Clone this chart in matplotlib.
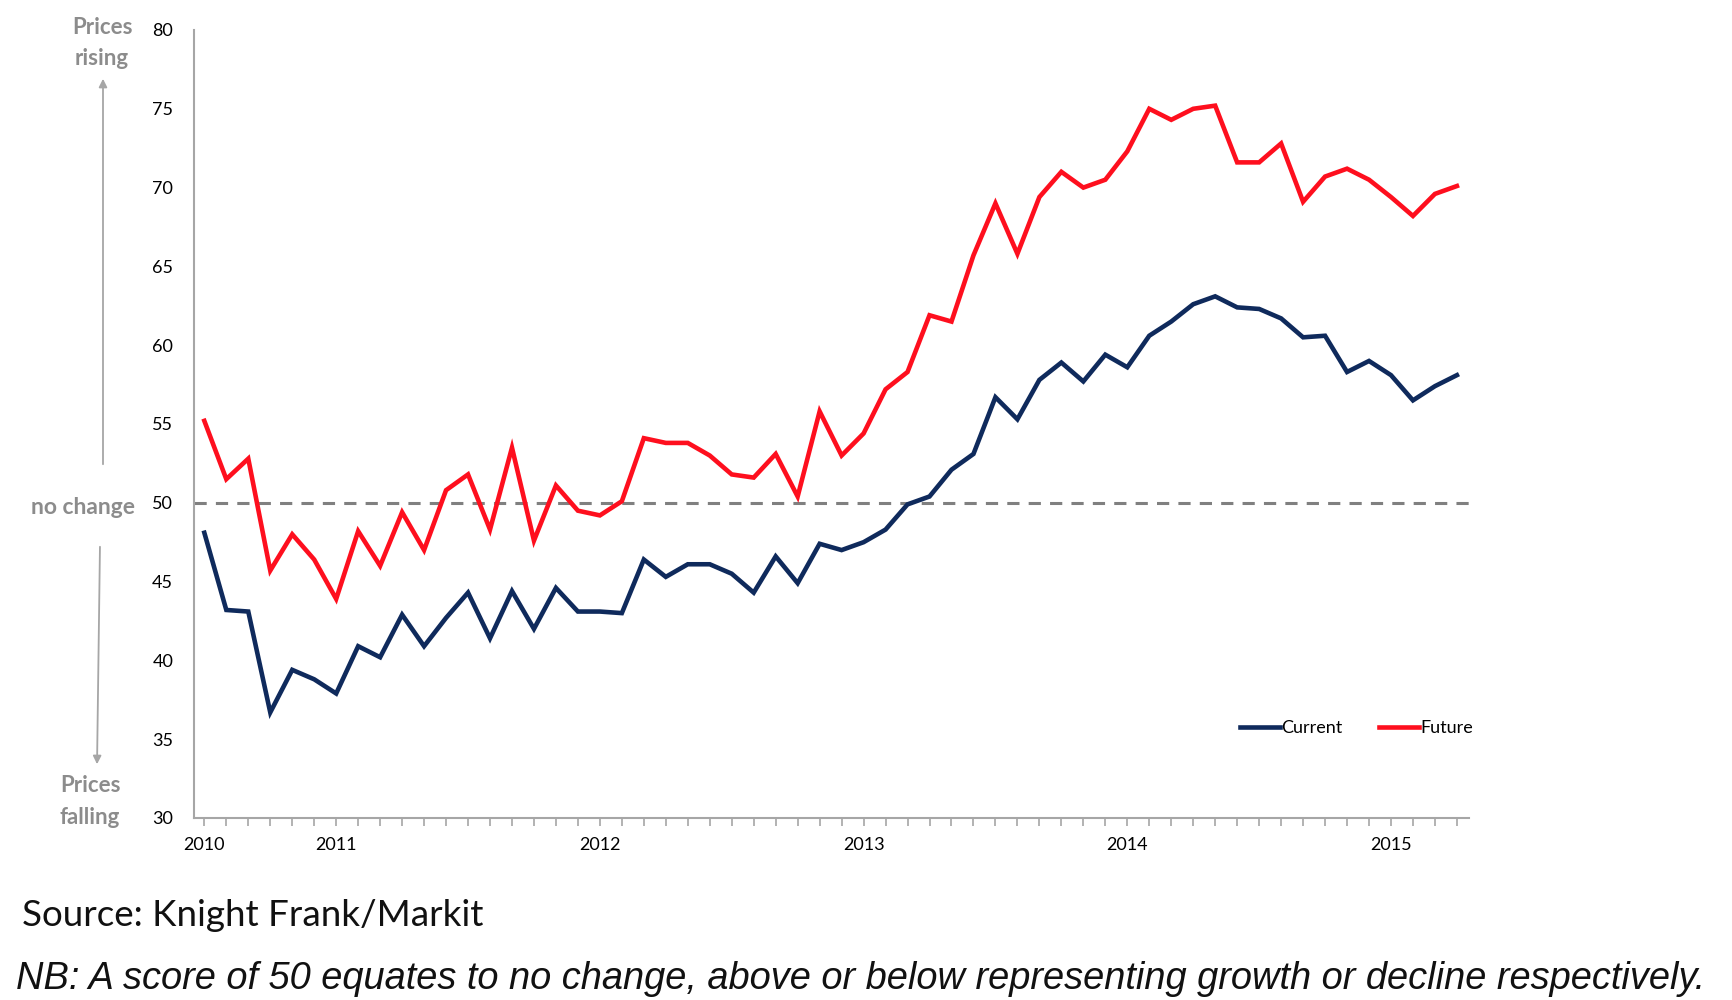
import matplotlib
matplotlib.use("Agg")
import matplotlib.pyplot as plt

# HOUSE PRICE SENTIMENT INDEX (Knight Frank/Markit)
year_labels = ["2010", "2011", "2012", "2013", "2014", "2015"]
year_positions = [0, 6, 18, 30, 42, 54]

current = [48.1, 43.2, 43.1, 36.7, 39.4, 38.8, 37.9, 40.9, 40.2, 42.9,
           40.9, 42.7, 44.3, 41.4, 44.4, 42.0, 44.6, 43.1, 43.1, 43.0,
           46.4, 45.3, 46.1, 46.1, 45.5, 44.3, 46.6, 44.9, 47.4, 47.0,
           47.5, 48.3, 49.9, 50.4, 52.1, 53.1, 56.7, 55.3, 57.8, 58.9,
           57.7, 59.4, 58.6, 60.6, 61.5, 62.6, 63.1, 62.4, 62.3, 61.7,
           60.5, 60.6, 58.3, 59.0, 58.1, 56.5, 57.4, 58.1]
future = [55.2, 51.5, 52.8, 45.7, 48.0, 46.4, 43.9, 48.2, 46.0, 49.4,
          47.0, 50.8, 51.8, 48.3, 53.5, 47.6, 51.1, 49.5, 49.2, 50.1,
          54.1, 53.8, 53.8, 53.0, 51.8, 51.6, 53.1, 50.4, 55.8, 53.0,
          54.4, 57.2, 58.3, 61.9, 61.5, 65.7, 69.0, 65.8, 69.4, 71.0,
          70.0, 70.5, 72.3, 75.0, 74.3, 75.0, 75.2, 71.6, 71.6, 72.8,
          69.1, 70.7, 71.2, 70.5, 69.4, 68.2, 69.6, 70.1]

plt.rcParams["font.family"] = ["Lato", "DejaVu Sans"]

fig = plt.figure(figsize=(17.32, 10), dpi=100)
W, H = 1732, 1000
ax = fig.add_axes([194 / W, 1 - 818 / H, (1469 - 194) / W, (818 - 30) / H])

idx = list(range(len(current)))
ax.plot(idx, current, color="#0f2a5c", lw=3.3, label="Current", solid_joinstyle="miter")
ax.plot(idx, future, color="#fe0f1e", lw=3.3, label="Future", solid_joinstyle="miter")
ax.axhline(50, color="#808080", lw=2.2, ls=(0, (4, 3)), zorder=0)

ax.set_ylim(30, 80)
ax.set_xlim(-0.47, 57.55)
ax.set_yticks(range(30, 81, 5))
ax.tick_params(axis="y", length=0, pad=15, labelsize=13)
ax.set_xticks(year_positions)
ax.set_xticklabels(year_labels)
ax.set_xticks(range(0, 58), minor=True)
ax.tick_params(axis="x", which="both", length=6, width=1.2, color="#a6a6a6",
               direction="out", labelsize=13, pad=8)

for s in ["top", "right"]:
    ax.spines[s].set_visible(False)
for s in ["left", "bottom"]:
    ax.spines[s].set_color("#a6a6a6")
    ax.spines[s].set_linewidth(1.5)

ax.legend(ncol=2, frameon=False, loc="center left", fontsize=13,
          bbox_to_anchor=(1240 / W, 1 - 728 / H), bbox_transform=fig.transFigure,
          borderpad=0, borderaxespad=0, handlelength=2.2, handletextpad=0.1,
          columnspacing=2.0)

# OPISY PO LEWEJ STRONIE
grey = "#8c8c8c"
fig.text(102 / W, 1 - 28 / H, "Prices", ha="center", va="center", fontsize=16,
         fontweight="bold", color=grey)
fig.text(102 / W, 1 - 59 / H, "rising", ha="center", va="center", fontsize=16,
         fontweight="bold", color=grey)
fig.text(83 / W, 1 - 507 / H, "no change", ha="center", va="center", fontsize=16.5,
         fontweight="bold", color=grey)
fig.text(90 / W, 1 - 786 / H, "Prices", ha="center", va="center", fontsize=16,
         fontweight="bold", color=grey)
fig.text(90 / W, 1 - 817 / H, "falling", ha="center", va="center", fontsize=16,
         fontweight="bold", color=grey)

arrow = dict(arrowstyle="-|>", color="#a6a6a6", lw=1.3, mutation_scale=12)
ax.annotate("", xy=(103, H - 76), xytext=(103, H - 467), xycoords="figure pixels",
            textcoords="figure pixels", arrowprops=arrow, annotation_clip=False)
ax.annotate("", xy=(97, H - 767), xytext=(100, H - 544), xycoords="figure pixels",
            textcoords="figure pixels", arrowprops=arrow, annotation_clip=False)

fig.text(22 / W, 1 - 915 / H, "Source: Knight Frank/Markit", ha="left", va="center",
         fontsize=26.5, color="#111111")
fig.text(16 / W, 1 - 979 / H,
         "NB: A score of 50 equates to no change, above or below representing growth or decline respectively.",
         ha="left", va="center", fontsize=27.4, style="italic", family="Liberation Sans",
         color="#111111")

fig.savefig("out.png", dpi=100)
